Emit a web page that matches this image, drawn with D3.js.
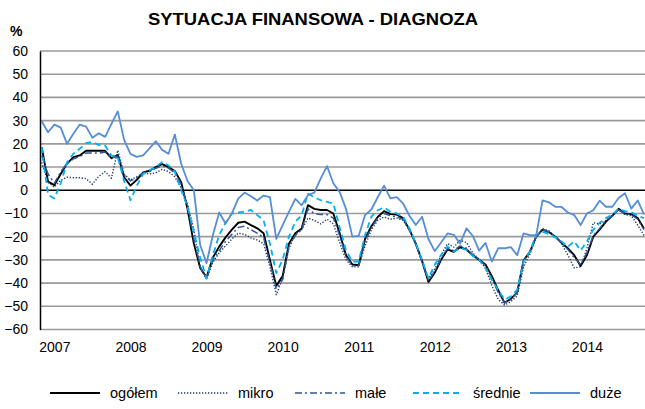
<!DOCTYPE html>
<html>
<head>
<meta charset="utf-8">
<script src="https://cdn.jsdelivr.net/npm/d3@7"></script>
<style>
  body { margin: 0; background: #fff; }
  text { font-family: Arial, "Liberation Sans", sans-serif; }
</style>
</head>
<body>
<div id="chart"></div>
<script>
// monthly values, Jan 2007 .. Dec 2014
const ogolem = [18.6, 3.7, 2.2, 7, 11.5, 14.3, 15, 17, 17, 17, 17, 13.8,
  15.2, 5.6, 2, 4.5, 7.7, 8.4, 10, 11.3, 10, 8.3, 3.5, -8,
  -23, -33.5, -37.5, -29, -24.3, -20.3, -17, -14, -13.5, -15, -16.4, -18.5,
  -30, -41.2, -37, -23, -18.5, -16.5, -6.4, -8, -8.5, -8.5, -10, -18.5,
  -28, -32, -32.3, -21, -15.5, -11.5, -9, -10.3, -10.5, -12, -17, -23,
  -30.5, -39.5, -35.5, -30, -25.5, -26.5, -24.6, -25.5, -28, -30, -32, -37,
  -43, -48.5, -46.8, -44, -30.3, -26.5, -20, -17, -18, -20, -22.7, -25,
  -28, -32.6, -28, -20, -17, -13.5, -11, -8, -10, -10.3, -12, -16.5];

const mikro = [12, 3.5, 1.3, 4.4, 5.6, 5.4, 5.4, 5, 2.6, 6, 8, 5.2,
  17.2, 7, 4.5, 5.8, 7.5, 7, 7.5, 9, 8, 5.8, 1, -6,
  -17, -33, -38.5, -31, -27, -24, -21, -18.5, -19, -20.5, -21.5, -23,
  -33, -45, -38, -25, -19, -17, -12, -13, -14.5, -12.5, -14.5, -22.5,
  -30, -33, -33, -24, -17, -13, -11.5, -12.5, -12, -13, -17, -23,
  -31, -38, -34, -28, -23, -24.5, -21.5, -22.5, -27, -30, -33.5, -41,
  -47, -49.5, -48, -45.5, -33, -27.5, -20, -16.5, -17.5, -20, -23, -28,
  -33.5, -33, -25, -14, -14.5, -13, -11, -8.5, -10.5, -11, -15, -19.5];

const male = [15, 7, 3, 8, 11.5, 13.5, 14.5, 16, 16, 16, 16.5, 14,
  14.5, 6.5, 4, 5.5, 7.5, 8, 9.5, 10.5, 9.5, 7.5, 2.5, -7,
  -21, -33, -38, -30, -26, -22, -19, -16, -15.5, -17, -18.5, -20.5,
  -31, -42.5, -38.5, -24, -19.5, -17, -8, -10, -10.5, -10.5, -12, -19.5,
  -28.5, -32.5, -32.5, -22, -16, -12, -10, -11, -11.5, -12.5, -17, -23,
  -31, -39, -35, -29.5, -25, -26, -24, -25, -28, -30, -32.5, -38,
  -44, -48.5, -47, -44, -30.5, -26.5, -20, -17, -18, -20, -22.5, -25.5,
  -29, -32, -27, -19.5, -16.5, -13, -11, -8.5, -10, -10.5, -12.5, -17];

const srednie = [18.6, -2, -3.5, 3, 12, 15.7, 17.9, 20.3, 20.8, 19.5, 19.3, 15,
  14.3, 4, -4.3, 2, 7, 8.6, 10, 12.2, 10.7, 8, 0, -7,
  -18, -29, -38, -28, -19.3, -14, -10, -9.5, -9.3, -8.5, -10.7, -13,
  -23, -35.7, -30, -20, -13.6, -10.7, -1.5, -3, -4.3, -5, -5.7, -16,
  -26, -30.7, -30.7, -19.3, -11.4, -8.6, -7.4, -9.3, -10, -11.4, -16.4, -22.9,
  -30, -37.9, -32, -27.9, -24.3, -26.4, -25, -25.7, -28.3, -30, -33.6, -38.6,
  -42.9, -47.1, -45.7, -42.9, -30.7, -26.4, -19.3, -17.9, -18.9, -20.3, -22.1, -24.3,
  -22, -26, -22, -17, -14, -12, -10.5, -8, -9, -9.5, -11, -12];

const duze = [29.7, 25, 28.3, 27, 20, 24.3, 28.3, 27.4, 22.6, 24.6, 23, 28.6,
  34, 21.7, 15.7, 14.4, 15, 18, 21.1, 17.4, 15.7, 24, 11.4, 4,
  0, -23.6, -31.4, -19.3, -9.6, -14.3, -10, -3.6, -1, -2.6, -4.4, -2.3,
  -3, -21, -15, -9.3, -3.7, -6.5, -2.1, -1, 5, 10.4, 3, -0.8,
  -8, -20, -19.7, -10.7, -8.3, -3, 2, -3.5, -3, -5.7, -11, -15,
  -11.4, -21, -26.2, -22.5, -18.6, -19.2, -23, -16.4, -19.7, -26, -22.7, -30.7,
  -25, -25, -24.5, -28, -18.6, -19.3, -19.3, -4.4, -5.2, -7.1, -7.2, -9.6,
  -10.7, -15, -10, -8.6, -4.5, -7.1, -7.1, -3.3, -1.3, -7.9, -4.4, -10.4];

const years = ['2007', '2008', '2009', '2010', '2011', '2012', '2013', '2014'];
const yTicks = [-60, -50, -40, -30, -20, -10, 0, 10, 20, 30, 40, 50, 60];
const seriesNames = ['ogółem', 'mikro', 'małe', 'średnie', 'duże'];

const width = 645, height = 409;

const series = [
  {name: seriesNames[0], values: ogolem, color: '#000000', w: 1.9, dash: null},
  {name: seriesNames[1], values: mikro, color: '#1F3864', w: 1.4, dash: '1.3,1.7'},
  {name: seriesNames[2], values: male, color: '#2F5597', w: 1.5, dash: '7,3,2,3'},
  {name: seriesNames[3], values: srednie, color: '#00B0F0', w: 1.8, dash: '6,4'},
  {name: seriesNames[4], values: duze, color: '#558ED5', w: 1.8, dash: null}
];

const svg = d3.select('#chart').append('svg')
    .attr('width', width)
    .attr('height', height);

const x = d3.scaleLinear().domain([0, ogolem.length - 1]).range([41.7, 644]);
const y = d3.scaleLinear().domain([-60, 60]).range([329.5, 51]);

// title
svg.append('text')
    .attr('x', 313)
    .attr('y', 25)
    .attr('text-anchor', 'middle')
    .attr('font-size', 17)
    .attr('font-weight', 'bold')
    .attr('textLength', 330)
    .attr('lengthAdjust', 'spacingAndGlyphs')
    .text('SYTUACJA FINANSOWA  - DIAGNOZA');

svg.append('text')
    .attr('x', 10)
    .attr('y', 36)
    .attr('font-size', 14)
    .attr('font-weight', 'bold')
    .text('%');

// gridlines
svg.append('g')
    .selectAll('line')
    .data(yTicks)
    .join('line')
    .attr('x1', 40)
    .attr('x2', width)
    .attr('y1', d => y(d))
    .attr('y2', d => y(d))
    .attr('stroke', d => d === 0 ? '#000' : '#9a9a9a')
    .attr('stroke-width', d => d === 0 ? 1.5 : 1.6);

// y axis
const yAxis = svg.append('g')
    .attr('transform', 'translate(40,0)')
    .call(d3.axisLeft(y).tickValues(yTicks).tickSize(0).tickPadding(12))
    .call(g => g.select('.domain').attr('stroke', '#000').attr('stroke-width', 1.5));
yAxis.selectAll('text')
    .attr('font-size', 14)
    .attr('font-family', 'Arial, "Liberation Sans", sans-serif')
    .attr('fill', '#000');

// x axis labels (year)
const xAxis = svg.append('g')
    .attr('transform', 'translate(0,339)')
    .call(d3.axisBottom(x)
        .tickValues(years.map((d, i) => i * 12 + 2))
        .tickFormat((d, i) => years[i])
        .tickSize(0))
    .call(g => g.select('.domain').remove());
xAxis.selectAll('text')
    .attr('font-size', 14)
    .attr('font-family', 'Arial, "Liberation Sans", sans-serif')
    .attr('fill', '#000');

// lines
const line = d3.line()
    .x((d, i) => x(i))
    .y(d => y(d));

series.forEach(s => {
    svg.append('path')
        .datum(s.values)
        .attr('fill', 'none')
        .attr('stroke', s.color)
        .attr('stroke-width', s.w)
        .attr('stroke-dasharray', s.dash)
        .attr('stroke-linejoin', 'round')
        .attr('d', line);
});

// legend
const legendX = [50, 178, 295, 413, 530];
const legend = svg.append('g');
series.forEach((s, i) => {
    legend.append('line')
        .attr('x1', legendX[i])
        .attr('x2', legendX[i] + 50)
        .attr('y1', 393)
        .attr('y2', 393)
        .attr('stroke', s.color)
        .attr('stroke-width', s.w)
        .attr('stroke-dasharray', s.dash);
    legend.append('text')
        .attr('x', legendX[i] + 60)
        .attr('y', 398)
        .attr('font-size', 14.5)
        .text(s.name);
});
</script>
</body>
</html>
